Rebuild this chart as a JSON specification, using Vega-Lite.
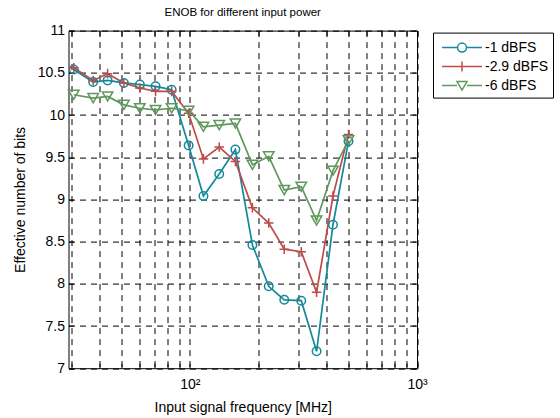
{
  "$schema": "https://vega.github.io/schema/vega-lite/v6.json",
  "width": 348.5,
  "height": 337.6,
  "autosize": "none",
  "padding": {"left": 68.5, "top": 30.6, "right": 143, "bottom": 49.8},
  "background": "white",
  "title": {
    "text": "ENOB for different input power",
    "font": "Liberation Sans",
    "fontSize": 11.5,
    "fontWeight": "normal",
    "color": "black",
    "anchor": "middle",
    "offset": 5
  },
  "config": {
    "view": {"stroke": "black", "strokeWidth": 1},
    "font": "Liberation Sans",
    "axis": {
      "domain": false,
      "labelFont": "Liberation Sans",
      "labelFontSize": 14,
      "labelColor": "black",
      "titleFont": "Liberation Sans",
      "titleFontSize": 14,
      "titleFontWeight": "normal",
      "titleColor": "black",
      "tickColor": "black",
      "tickSize": -5,
      "tickWidth": 1,
      "gridColor": "black",
      "gridOpacity": 1,
      "gridDash": [6, 5],
      "gridWidth": 1
    },
    "legend": {
      "labelFont": "Liberation Sans",
      "labelFontSize": 14,
      "labelColor": "black"
    }
  },
  "data": {
    "values": [
      {"f": 30.8, "enob": 10.54, "series": "-1 dBFS"},
      {"f": 37.5, "enob": 10.39, "series": "-1 dBFS"},
      {"f": 43.4, "enob": 10.41, "series": "-1 dBFS"},
      {"f": 51.2, "enob": 10.38, "series": "-1 dBFS"},
      {"f": 60.2, "enob": 10.36, "series": "-1 dBFS"},
      {"f": 70.6, "enob": 10.34, "series": "-1 dBFS"},
      {"f": 83.1, "enob": 10.30, "series": "-1 dBFS"},
      {"f": 98.7, "enob": 9.64, "series": "-1 dBFS"},
      {"f": 114.7, "enob": 9.04, "series": "-1 dBFS"},
      {"f": 134.6, "enob": 9.30, "series": "-1 dBFS"},
      {"f": 158.6, "enob": 9.59, "series": "-1 dBFS"},
      {"f": 188.5, "enob": 8.46, "series": "-1 dBFS"},
      {"f": 222.4, "enob": 7.97, "series": "-1 dBFS"},
      {"f": 260.3, "enob": 7.81, "series": "-1 dBFS"},
      {"f": 309.3, "enob": 7.80, "series": "-1 dBFS"},
      {"f": 361.2, "enob": 7.20, "series": "-1 dBFS"},
      {"f": 426.6, "enob": 8.70, "series": "-1 dBFS"},
      {"f": 499.3, "enob": 9.69, "series": "-1 dBFS"},
      {"f": 30.8, "enob": 10.56, "series": "-2.9 dBFS"},
      {"f": 37.5, "enob": 10.41, "series": "-2.9 dBFS"},
      {"f": 43.4, "enob": 10.49, "series": "-2.9 dBFS"},
      {"f": 51.2, "enob": 10.38, "series": "-2.9 dBFS"},
      {"f": 60.2, "enob": 10.32, "series": "-2.9 dBFS"},
      {"f": 70.6, "enob": 10.28, "series": "-2.9 dBFS"},
      {"f": 83.1, "enob": 10.28, "series": "-2.9 dBFS"},
      {"f": 98.7, "enob": 10.02, "series": "-2.9 dBFS"},
      {"f": 114.7, "enob": 9.48, "series": "-2.9 dBFS"},
      {"f": 134.6, "enob": 9.62, "series": "-2.9 dBFS"},
      {"f": 158.6, "enob": 9.45, "series": "-2.9 dBFS"},
      {"f": 188.5, "enob": 8.90, "series": "-2.9 dBFS"},
      {"f": 222.4, "enob": 8.72, "series": "-2.9 dBFS"},
      {"f": 260.3, "enob": 8.41, "series": "-2.9 dBFS"},
      {"f": 309.3, "enob": 8.38, "series": "-2.9 dBFS"},
      {"f": 361.2, "enob": 7.90, "series": "-2.9 dBFS"},
      {"f": 426.6, "enob": 9.04, "series": "-2.9 dBFS"},
      {"f": 499.3, "enob": 9.77, "series": "-2.9 dBFS"},
      {"f": 30.8, "enob": 10.24, "series": "-6 dBFS"},
      {"f": 37.5, "enob": 10.20, "series": "-6 dBFS"},
      {"f": 43.4, "enob": 10.22, "series": "-6 dBFS"},
      {"f": 51.2, "enob": 10.12, "series": "-6 dBFS"},
      {"f": 60.2, "enob": 10.08, "series": "-6 dBFS"},
      {"f": 70.6, "enob": 10.06, "series": "-6 dBFS"},
      {"f": 83.1, "enob": 10.08, "series": "-6 dBFS"},
      {"f": 98.7, "enob": 10.05, "series": "-6 dBFS"},
      {"f": 114.7, "enob": 9.86, "series": "-6 dBFS"},
      {"f": 134.6, "enob": 9.88, "series": "-6 dBFS"},
      {"f": 158.6, "enob": 9.90, "series": "-6 dBFS"},
      {"f": 188.5, "enob": 9.41, "series": "-6 dBFS"},
      {"f": 222.4, "enob": 9.51, "series": "-6 dBFS"},
      {"f": 260.3, "enob": 9.11, "series": "-6 dBFS"},
      {"f": 309.3, "enob": 9.15, "series": "-6 dBFS"},
      {"f": 361.2, "enob": 8.75, "series": "-6 dBFS"},
      {"f": 426.6, "enob": 9.34, "series": "-6 dBFS"},
      {"f": 499.3, "enob": 9.70, "series": "-6 dBFS"}
    ]
  },
  "layer": [
    {
      "mark": {"type": "line", "strokeWidth": 1.7},
      "encoding": {
        "x": {
          "field": "f",
          "type": "quantitative",
          "scale": {"type": "log", "domain": [29.2, 1000], "nice": false},
          "axis": {
            "orient": "bottom",
            "title": "Input signal frequency [MHz]",
            "values": [30, 40, 50, 60, 70, 80, 90, 100, 200, 300, 400, 500, 600, 700, 800, 900, 1000],
            "labelExpr": "datum.value == 100 ? '10²' : datum.value == 1000 ? '10³' : ''",
            "labelPadding": 14,
            "titlePadding": 9,
            "grid": true,
            "labelOverlap": false,
            "labelFlush": false
          }
        },
        "y": {
          "field": "enob",
          "type": "quantitative",
          "scale": {"domain": [7, 11], "nice": false, "zero": false},
          "axis": {
            "orient": "left",
            "title": "Effective number of bits",
            "values": [7, 7.5, 8, 8.5, 9, 9.5, 10, 10.5, 11],
            "format": "~g",
            "labelPadding": 9,
            "titlePadding": 10,
            "grid": true,
            "labelFlush": false
          }
        },
        "color": {
          "field": "series",
          "type": "nominal",
          "scale": {
            "domain": ["-1 dBFS", "-2.9 dBFS", "-6 dBFS"],
            "range": ["#13899b", "#be4b48", "#5f985b"]
          },
          "legend": {
            "title": null,
            "orient": "none",
            "legendX": 364.5,
            "legendY": 2,
            "padding": 4,
            "strokeColor": "black",
            "fillColor": "white",
            "symbolSize": 400,
            "symbolStrokeWidth": 1.5,
            "rowPadding": 0,
            "labelOffset": 26,
            "labelExpr": "datum.label + '\u00a0\u00a0'",
            "encode": {
              "symbols": {
                "update": {
                  "shape": {"signal": "datum.value === '-1 dBFS' ? 'M-0.6,0H0.95M1.85,0H3.4M0.95,0A0.45,0.45 0 1,1 1.85,0A0.45,0.45 0 1,1 0.95,0' : datum.value === '-2.9 dBFS' ? 'M-0.6,0H3.4M1.4,-0.5V0.5' : 'M-0.6,0H0.9M1.9,0H3.4M0.9,-0.4L1.9,-0.4L1.4,0.45Z'"},
                  "fill": {"value": "transparent"},
                  "size": {"value": 400},
                  "strokeWidth": {"value": 1.5}
                }
              }
            }
          }
        }
      }
    },
    {
      "mark": {"type": "point", "filled": false, "strokeWidth": 1.5, "opacity": 1},
      "encoding": {
        "x": {
          "field": "f",
          "type": "quantitative",
          "scale": {"type": "log", "domain": [29.2, 1000], "nice": false},
          "axis": {
            "orient": "top",
            "title": null,
            "values": [30, 40, 50, 60, 70, 80, 90, 100, 200, 300, 400, 500, 600, 700, 800, 900, 1000],
            "labels": false,
            "grid": false
          }
        },
        "y": {
          "field": "enob",
          "type": "quantitative",
          "scale": {"domain": [7, 11], "nice": false, "zero": false},
          "axis": {
            "orient": "right",
            "title": null,
            "values": [7, 7.5, 8, 8.5, 9, 9.5, 10, 10.5, 11],
            "labels": false,
            "grid": false
          }
        },
        "color": {"field": "series", "type": "nominal", "legend": null},
        "shape": {
          "field": "series",
          "type": "nominal",
          "scale": {
            "domain": ["-1 dBFS", "-2.9 dBFS", "-6 dBFS"],
            "range": ["circle", "M-1,0H1M0,-1V1", "triangle-down"]
          },
          "legend": null
        },
        "size": {
          "field": "series",
          "type": "nominal",
          "scale": {
            "domain": ["-1 dBFS", "-2.9 dBFS", "-6 dBFS"],
            "range": [72, 110, 100]
          },
          "legend": null
        }
      }
    }
  ],
  "resolve": {
    "axis": {"x": "independent", "y": "independent"},
    "legend": {"color": "independent", "shape": "independent", "size": "independent"}
  }
}
